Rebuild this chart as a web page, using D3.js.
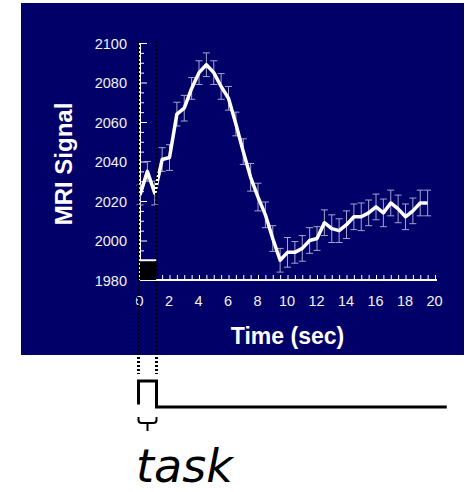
<!DOCTYPE html>
<html>
<head>
<meta charset="utf-8">
<script src="https://cdn.jsdelivr.net/npm/d3@7"></script>
<style>
  html, body { margin: 0; padding: 0; background: #fff; }
  svg { display: block; }
  .axis path, .axis line { stroke: #fff; }
  .axis text { fill: #f2f2f2; font-family: "Liberation Sans", Arial, sans-serif; font-size: 14.5px; }
</style>
</head>
<body>
<div id="chart"></div>
<script>
// sample times (sec) and mean MRI signal
var times = [0, 0.5, 1, 1.5, 2, 2.5, 3, 3.5, 4, 4.5, 5, 5.5, 6, 6.5, 7, 7.5, 8, 8.5, 9, 9.5,
  10, 10.5, 11, 11.5, 12, 12.5, 13, 13.5, 14, 14.5, 15, 15.5, 16, 16.5, 17, 17.5, 18, 18.5, 19, 19.5];
var signal = [2023, 2035, 2024, 2041, 2042, 2064, 2067, 2077, 2085, 2089, 2085, 2078, 2072, 2059, 2045, 2032, 2022, 2013, 2001, 1990,
  1994, 1994, 1996, 2000, 2001, 2009, 2006, 2005, 2008, 2012, 2012, 2014, 2017, 2014, 2019, 2016, 2012, 2015, 2019, 2019];
var errors = [5, 5, 6, 6, 6.5, 6, 6.5, 5.5, 6, 6, 6, 6.5, 6, 6, 6.5, 7, 7, 6.5, 6.5, 6,
  7.5, 5.5, 6.5, 6.5, 6, 6.5, 7, 6, 7, 6.5, 7, 6.5, 6.5, 7, 6.5, 7, 6.5, 6.5, 6.5, 6.5];

var yTicks = [1980, 2000, 2020, 2040, 2060, 2080, 2100];
var xTicks = [0, 2, 4, 6, 8, 10, 12, 14, 16, 18, 20];

// stimulus block (sec) and the task timeline below the plot
var stimulus = [0, 1.1];
var taskTimes = [0, 0, 1.1, 1.1, 20.8];
var taskLevels = [0.1, 1, 1, 0, 0];
var taskLabel = "task";

var render = function() {
  var width = 465;
  var height = 492;

  var svg = d3.select("#chart")
    .append("svg")
    .attr("width", width)
    .attr("height", height);

  // navy panel
  svg.append("rect")
    .attr("x", 21)
    .attr("y", 3)
    .attr("width", 443)
    .attr("height", 352)
    .attr("fill", "#000068");

  var xScale = d3.scaleLinear().domain([0, 20]).range([140, 435]);
  var yScale = d3.scaleLinear().domain([1980, 2100]).range([280, 43]);
  var taskY = d3.scaleLinear().domain([0, 1]).range([407, 381]);

  // y axis: labels on the left, ticks pointing inside
  var yMinor = d3.range(1980, 2100.1, 5);
  svg.append("g")
    .attr("class", "y axis")
    .attr("transform", "translate(" + xScale(0) + ",0)")
    .call(d3.axisRight(yScale).tickValues(yMinor.filter(d => d % 20 != 0)).tickSize(4).tickFormat(""))
    .call(g => g.select(".domain").remove());

  svg.append("g")
    .attr("class", "y axis")
    .attr("transform", "translate(" + xScale(0) + ",0)")
    .call(d3.axisRight(yScale).tickValues(yTicks).tickSize(7).tickFormat(""))
    .call(g => g.select(".domain").attr("stroke-width", 2).attr("d", "M0," + yScale(2100) + "V" + yScale(1980)));

  svg.append("g")
    .attr("class", "y axis")
    .attr("transform", "translate(" + (xScale(0) - 13) + ",0)")
    .call(d3.axisLeft(yScale).tickValues(yTicks).tickSize(0).tickPadding(0).tickFormat(d3.format("d")))
    .call(g => g.select(".domain").remove())
    .selectAll("text")
    .attr("dy", "0.36em");

  // x axis: ticks every half second pointing up
  svg.append("g")
    .attr("class", "x axis")
    .attr("transform", "translate(0," + yScale(1980) + ")")
    .call(d3.axisTop(xScale).tickValues(d3.range(0, 20.01, 0.5)).tickSize(5).tickFormat(""))
    .call(g => g.select(".domain").attr("stroke-width", 2).attr("d", "M" + xScale(0) + ",0H" + (xScale(20) + 2)));

  svg.append("g")
    .attr("class", "x axis")
    .attr("transform", "translate(-1," + yScale(1980) + ")")
    .call(d3.axisBottom(xScale).tickValues(xTicks).tickSize(0).tickPadding(16))
    .call(g => g.select(".domain").remove());

  // stimulus block
  svg.append("rect")
    .attr("x", xScale(stimulus[0]))
    .attr("y", yScale(1990))
    .attr("width", xScale(stimulus[1]) - xScale(stimulus[0]))
    .attr("height", yScale(1980) - yScale(1990))
    .attr("fill", "#000");
  svg.append("line")
    .attr("x1", xScale(stimulus[0]))
    .attr("x2", xScale(stimulus[1]))
    .attr("y1", yScale(1990))
    .attr("y2", yScale(1990))
    .attr("stroke", "#fff")
    .attr("stroke-width", 2);

  // error bars
  var data = times.map((t, i) => ({ t: t, v: signal[i], e: errors[i] }));
  var bars = svg.append("g")
    .attr("stroke", "#a4a4cc")
    .attr("stroke-width", 1)
    .selectAll("g")
    .data(data)
    .enter()
    .append("g");
  bars.append("line")
    .attr("x1", d => xScale(d.t))
    .attr("x2", d => xScale(d.t))
    .attr("y1", d => yScale(d.v - d.e))
    .attr("y2", d => yScale(d.v + d.e));
  [-1, 1].forEach(function(s) {
    bars.append("line")
      .attr("x1", d => xScale(d.t) - 3.5)
      .attr("x2", d => xScale(d.t) + 3.5)
      .attr("y1", d => yScale(d.v + s * d.e))
      .attr("y2", d => yScale(d.v + s * d.e));
  });

  // mean signal
  var line = d3.line()
    .x(d => xScale(d.t))
    .y(d => yScale(d.v));
  svg.append("path")
    .attr("d", line(data))
    .attr("fill", "none")
    .attr("stroke", "#fff")
    .attr("stroke-width", 3.5)
    .attr("stroke-linejoin", "round");

  // axis titles
  svg.append("text")
    .attr("transform", "translate(72," + 164 + ") rotate(-90)")
    .attr("text-anchor", "middle")
    .attr("fill", "#fff")
    .style("font-family", "'Liberation Sans', Arial, sans-serif")
    .style("font-weight", "bold")
    .style("font-size", "24px")
    .text("MRI Signal");

  svg.append("text")
    .attr("x", xScale(10))
    .attr("y", 344)
    .attr("text-anchor", "middle")
    .attr("fill", "#fff")
    .style("font-family", "'Liberation Sans', Arial, sans-serif")
    .style("font-weight", "bold")
    .style("font-size", "23px")
    .text("Time (sec)");

  // dotted guides marking the stimulus
  var guideX = [xScale(stimulus[0]) - 1.5, Math.round(xScale(stimulus[1])) + 0.5];
  guideX.forEach(function(x) {
    svg.append("line")
      .attr("x1", x)
      .attr("x2", x)
      .attr("y1", 41)
      .attr("y2", 374)
      .attr("stroke", "#000")
      .attr("stroke-width", 3)
      .attr("stroke-dasharray", "2,2");
  });

  // task timeline
  var taskLine = d3.line()
    .x((d, i) => i < 2 ? guideX[0] : (i < 4 ? guideX[1] : xScale(d[0])))
    .y(d => taskY(d[1]));
  svg.append("path")
    .attr("d", taskLine(taskTimes.map((t, i) => [t, taskLevels[i]])))
    .attr("fill", "none")
    .attr("stroke", "#000")
    .attr("stroke-width", 3);

  // brace under the pulse
  var bx0 = guideX[0];
  var bx1 = guideX[1];
  var bm = (bx0 + bx1) / 2;
  svg.append("path")
    .attr("d", "M" + bx0 + ",417V420Q" + bx0 + ",423 " + (bx0 + 3) + ",423H" + (bx1 - 3) +
      "Q" + bx1 + ",423 " + bx1 + ",420V417M" + bm + ",423V431")
    .attr("fill", "none")
    .attr("stroke", "#000")
    .attr("stroke-width", 2);

  svg.append("text")
    .attr("x", 136)
    .attr("y", 482)
    .attr("fill", "#000")
    .style("font-family", "'DejaVu Sans', sans-serif")
    .style("font-style", "italic")
    .style("font-size", "46px")
    .text(taskLabel);
};

render();
</script>
</body>
</html>
